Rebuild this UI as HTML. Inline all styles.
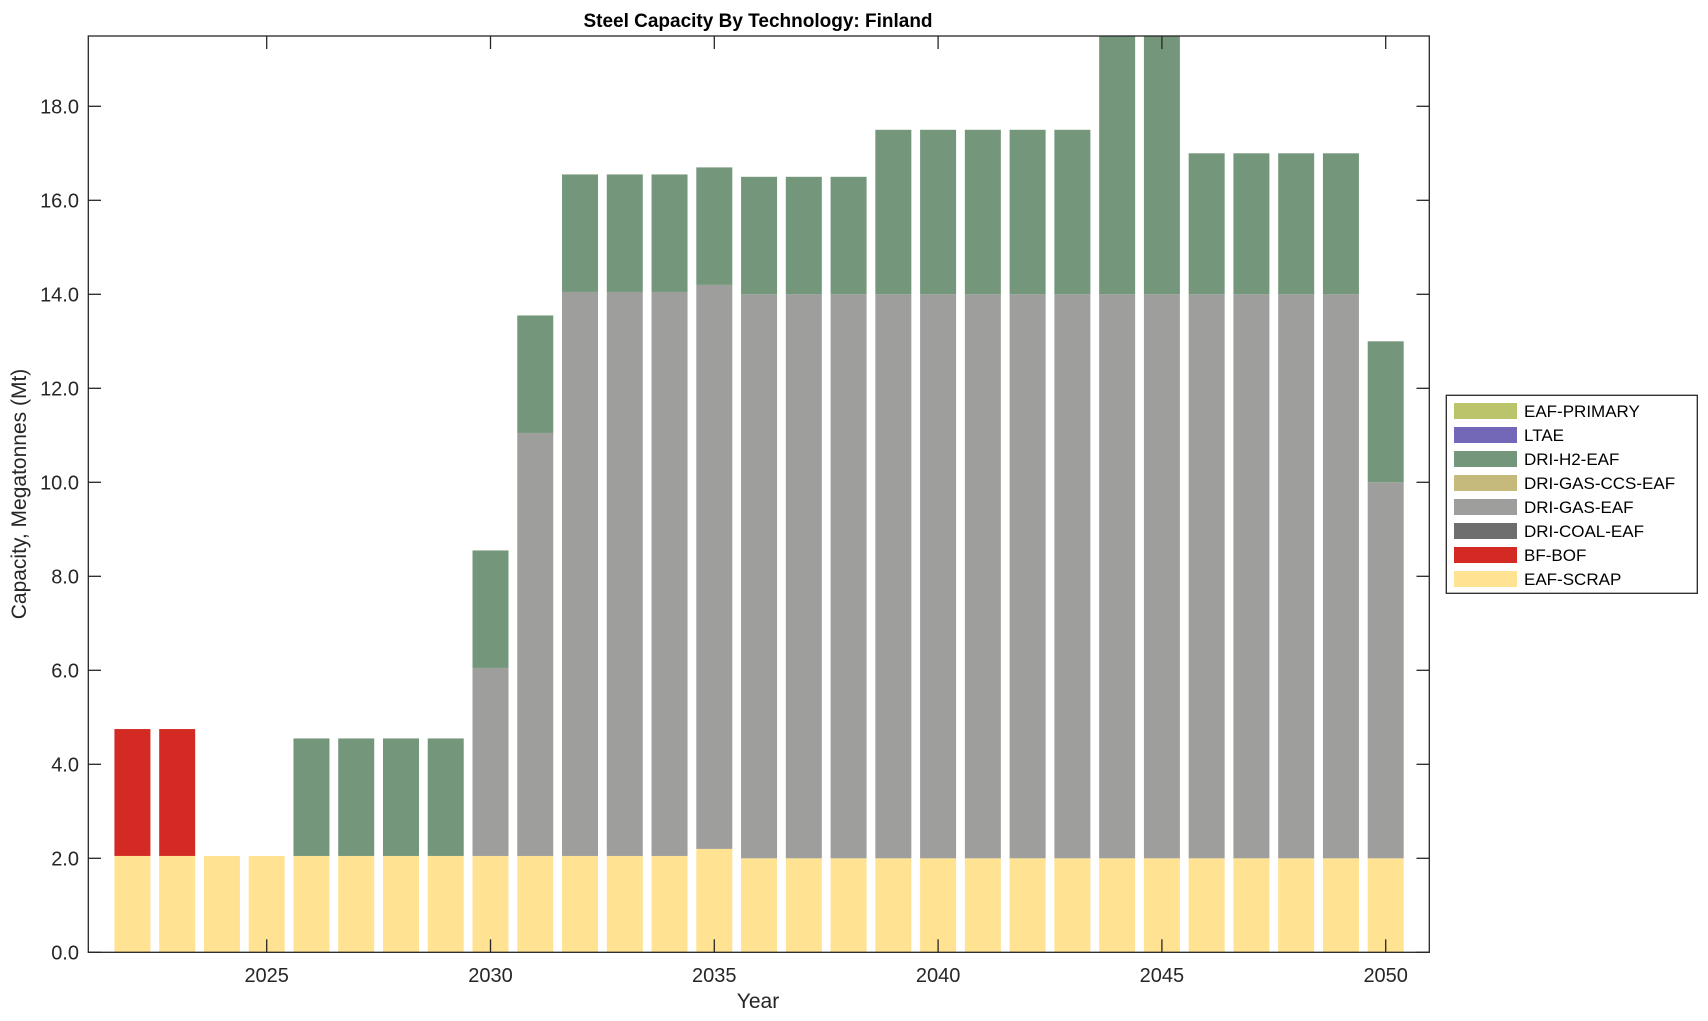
<!DOCTYPE html>
<html><head><meta charset="utf-8"><style>
body{margin:0;background:#fff;}
svg{display:block;font-family:"Liberation Sans",Arial,sans-serif;}
</style></head><body>
<svg id="s" width="1708" height="1021" xmlns="http://www.w3.org/2000/svg">
<text x="758" y="27" font-size="19" font-weight="bold" text-anchor="middle" fill="#000">Steel Capacity By Technology: Finland</text>
<g id="bars"></g>
<rect x="88.3" y="36" width="1341" height="916.3" fill="none" stroke="#262626" stroke-width="1.3"/>
<g id="ticks" stroke="#262626" stroke-width="1.3"></g>
<g id="labels" font-size="20" fill="#262626"></g>
<text x="758" y="1008" font-size="21" text-anchor="middle" fill="#262626">Year</text>
<text transform="translate(26,494) rotate(-90)" font-size="21" text-anchor="middle" fill="#262626">Capacity, Megatonnes (Mt)</text>
<rect x="1446.3" y="395.3" width="251" height="198" fill="#fff" stroke="#262626" stroke-width="1.3"/>
<g font-size="17" fill="#000">
<rect x="1454" y="403" width="63" height="16" fill="#BCC46B"/><text x="1524" y="417">EAF-PRIMARY</text>
<rect x="1454" y="427" width="63" height="16" fill="#7368B7"/><text x="1524" y="441">LTAE</text>
<rect x="1454" y="451" width="63" height="16" fill="#74977B"/><text x="1524" y="465">DRI-H2-EAF</text>
<rect x="1454" y="475" width="63" height="16" fill="#C5BA7C"/><text x="1524" y="489">DRI-GAS-CCS-EAF</text>
<rect x="1454" y="499" width="63" height="16" fill="#9E9E9C"/><text x="1524" y="513">DRI-GAS-EAF</text>
<rect x="1454" y="523" width="63" height="16" fill="#6E6E6E"/><text x="1524" y="537">DRI-COAL-EAF</text>
<rect x="1454" y="547" width="63" height="16" fill="#D42A24"/><text x="1524" y="561">BF-BOF</text>
<rect x="1454" y="571" width="63" height="16" fill="#FFE393"/><text x="1524" y="585">EAF-SCRAP</text>
</g>
</svg>
<script>
(function(){
var NS="http://www.w3.org/2000/svg";
function el(p,t,a,txt){var e=document.createElementNS(NS,t);for(var k in a)e.setAttribute(k,a[k]);if(txt!=null)e.textContent=txt;p.appendChild(e);return e;}
var y0=952.3,u=47.0,x2025=266.7,step=44.76,TOPY=36;
function Y(v){return Math.max(TOPY,y0-v*u);}
function X(yr){return x2025+(yr-2025)*step;}
var d={2022:[2.05,2.7,0,0],2023:[2.05,2.7,0,0],2024:[2.05,0,0,0],2025:[2.05,0,0,0]};
var y;
for(y=2026;y<=2029;y++)d[y]=[2.05,0,0,2.5];
d[2030]=[2.05,0,4,2.5];d[2031]=[2.05,0,9,2.5];
for(y=2032;y<=2034;y++)d[y]=[2.05,0,12,2.5];
d[2035]=[2.2,0,12,2.5];
for(y=2036;y<=2038;y++)d[y]=[2,0,12,2.5];
for(y=2039;y<=2043;y++)d[y]=[2,0,12,3.5];
d[2044]=[2,0,12,6];d[2045]=[2,0,12,6];
for(y=2046;y<=2049;y++)d[y]=[2,0,12,3];
d[2050]=[2,0,8,3];
var cols=["#FFE393","#D42A24","#9E9E9C","#74977B"];
var g=document.getElementById("bars");
for(y=2022;y<=2050;y++){var c=0,v=d[y];for(var i=0;i<4;i++){if(!v[i])continue;var a=Y(c),b=Y(c+v[i]);c+=v[i];
el(g,"rect",{x:X(y)-18,y:b,width:36,height:a-b,fill:cols[i]});}}
var t=document.getElementById("ticks"),L=document.getElementById("labels");
for(var k=0;k<=9;k++){var yy=y0-2*k*u;el(t,"line",{x1:88.3,x2:101,y1:yy,y2:yy});el(t,"line",{x1:1429.3,x2:1416.5,y1:yy,y2:yy});
el(L,"text",{x:79,y:yy+7,"text-anchor":"end"},(2*k).toFixed(1));}
for(y=2025;y<=2050;y+=5){var xx=X(y);el(t,"line",{x1:xx,x2:xx,y1:y0,y2:y0-13});el(t,"line",{x1:xx,x2:xx,y1:TOPY,y2:TOPY+13});
el(L,"text",{x:xx,y:982,"text-anchor":"middle"},String(y));}
})();
</script>
</body></html>
